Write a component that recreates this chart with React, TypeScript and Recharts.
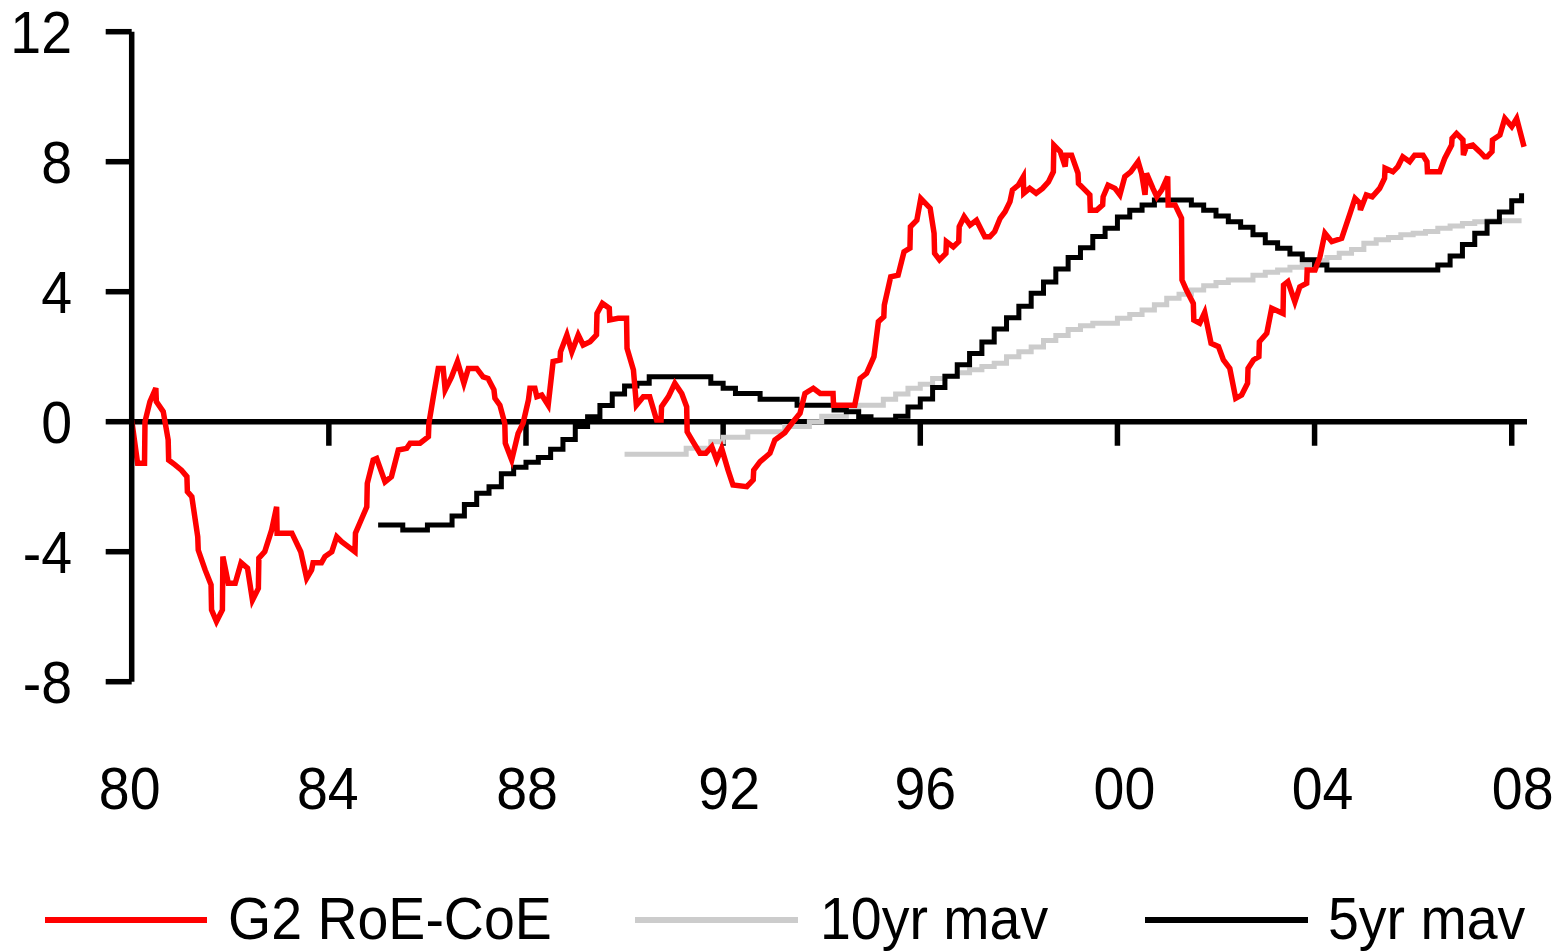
import React from "react";
import { LineChart, Line, XAxis, YAxis, ReferenceLine, Legend } from "recharts";

const FONT = "'Liberation Sans', Arial, sans-serif";

const xTicks = [1980, 1984, 1988, 1992, 1996, 2000, 2004, 2008];
const yTicks = [-8, -4, 0, 4, 8, 12];

const roeYears = [
  1980.0, 1980.12, 1980.26, 1980.27, 1980.37, 1980.49, 1980.5, 1980.64, 1980.74, 1980.75,
  1980.88, 1981.01, 1981.12, 1981.13, 1981.22, 1981.34, 1981.35, 1981.49, 1981.61, 1981.62,
  1981.72, 1981.84, 1981.85, 1981.96, 1982.1, 1982.22, 1982.35, 1982.45, 1982.57, 1982.58,
  1982.7, 1982.84, 1982.94, 1982.95, 1983.25, 1983.43, 1983.55, 1983.65, 1983.68, 1983.85,
  1983.92, 1984.06, 1984.16, 1984.26, 1984.4, 1984.53, 1984.54, 1984.67, 1984.77, 1984.78,
  1984.9, 1984.97, 1985.14, 1985.27, 1985.41, 1985.58, 1985.65, 1985.85, 1986.02, 1986.03,
  1986.12, 1986.22, 1986.32, 1986.36, 1986.49, 1986.61, 1986.74, 1986.83, 1987.0, 1987.13,
  1987.23, 1987.35, 1987.37, 1987.47, 1987.57, 1987.58, 1987.71, 1987.84, 1987.94, 1988.05,
  1988.08, 1988.18, 1988.22, 1988.32, 1988.45, 1988.55, 1988.69, 1988.7, 1988.83, 1988.93,
  1989.06, 1989.16, 1989.3, 1989.43, 1989.44, 1989.55, 1989.69, 1989.7, 1989.87, 1990.04,
  1990.05, 1990.18, 1990.24, 1990.38, 1990.51, 1990.65, 1990.74, 1990.75, 1990.89, 1991.02,
  1991.16, 1991.26, 1991.27, 1991.39, 1991.53, 1991.65, 1991.77, 1991.87, 1991.97, 1992.1,
  1992.2, 1992.48, 1992.61, 1992.62, 1992.75, 1992.95, 1993.05, 1993.25, 1993.42, 1993.56,
  1993.66, 1993.83, 1993.97, 1994.23, 1994.24, 1994.67, 1994.78, 1994.91, 1995.06, 1995.15,
  1995.26, 1995.27, 1995.4, 1995.55, 1995.67, 1995.79, 1995.8, 1995.93, 1996.01, 1996.2,
  1996.28, 1996.29, 1996.39, 1996.52, 1996.53, 1996.67, 1996.78, 1996.79, 1996.89, 1997.01,
  1997.14, 1997.24, 1997.31, 1997.41, 1997.51, 1997.62, 1997.72, 1997.82, 1997.87, 1997.99,
  1998.09, 1998.1, 1998.22, 1998.35, 1998.48, 1998.6, 1998.7, 1998.71, 1998.84, 1998.94,
  1998.96, 1999.07, 1999.2, 1999.21, 1999.31, 1999.44, 1999.45, 1999.58, 1999.7, 1999.71,
  1999.81, 1999.95, 2000.05, 2000.15, 2000.27, 2000.42, 2000.49, 2000.56, 2000.59, 2000.72,
  2000.8, 2000.9, 2001.02, 2001.03, 2001.17, 2001.3, 2001.31, 2001.4, 2001.54, 2001.55,
  2001.67, 2001.77, 2001.9, 2002.05, 2002.15, 2002.28, 2002.4, 2002.52, 2002.64, 2002.65,
  2002.76, 2002.87, 2002.88, 2003.03, 2003.13, 2003.36, 2003.37, 2003.46, 2003.6, 2003.7,
  2003.84, 2003.85, 2004.01, 2004.11, 2004.21, 2004.35, 2004.55, 2004.72, 2004.82, 2004.92,
  2004.93, 2005.05, 2005.17, 2005.32, 2005.42, 2005.43, 2005.59, 2005.69, 2005.79, 2005.93,
  2006.03, 2006.2, 2006.28, 2006.29, 2006.54, 2006.64, 2006.78, 2006.79, 2006.88, 2007.01,
  2007.02, 2007.08, 2007.21, 2007.35, 2007.45, 2007.5, 2007.6, 2007.61, 2007.76, 2007.86,
  2008.0, 2008.1, 2008.25,
];

const roeValues = [
  0.05, -1.28, -1.28, 0.0, 0.62, 1.03, 0.62, 0.31, -0.56, -1.18,
  -1.33, -1.49, -1.69, -2.15, -2.31, -3.54, -3.95, -4.56, -5.02, -5.79,
  -6.15, -5.79, -4.15, -4.97, -4.97, -4.34, -4.51, -5.49, -5.13, -4.2,
  -4.0, -3.33, -2.62, -3.43, -3.43, -4.0, -4.82, -4.56, -4.34, -4.34,
  -4.15, -4.0, -3.54, -3.69, -3.85, -4.0, -3.43, -2.97, -2.62, -1.9,
  -1.18, -1.13, -1.85, -1.69, -0.87, -0.82, -0.66, -0.66, -0.46, -0.05,
  0.77, 1.64, 1.64, 0.98, 1.38, 1.85, 1.18, 1.64, 1.64, 1.38,
  1.33, 0.98, 0.72, 0.51, -0.05, -0.66, -1.18, -0.36, -0.05, 0.67,
  1.03, 1.03, 0.77, 0.82, 0.51, 1.85, 1.9, 2.15, 2.67, 2.15,
  2.67, 2.36, 2.46, 2.67, 3.33, 3.64, 3.49, 3.13, 3.18, 3.18,
  2.26, 1.59, 0.51, 0.77, 0.77, 0.05, 0.05, 0.46, 0.77, 1.18,
  0.87, 0.46, -0.31, -0.62, -0.97, -0.97, -0.77, -1.18, -0.82, -1.49,
  -1.95, -2.0, -1.79, -1.49, -1.23, -0.97, -0.56, -0.34, 0.0, 0.26,
  0.87, 1.03, 0.87, 0.87, 0.51, 0.51, 1.33, 1.49, 2.0, 3.08,
  3.23, 3.59, 4.46, 4.51, 5.23, 5.34, 6.0, 6.2, 6.87, 6.57,
  5.8, 5.18, 4.98, 5.18, 5.54, 5.38, 5.54, 6.0, 6.31, 6.05,
  6.2, 5.9, 5.69, 5.69, 5.85, 6.26, 6.46, 6.77, 7.13, 7.28,
  7.54, 7.03, 7.18, 7.03, 7.18, 7.38, 7.69, 8.51, 8.31, 7.85,
  8.2, 8.2, 7.64, 7.33, 7.18, 6.98, 6.51, 6.51, 6.67, 6.92,
  7.28, 7.18, 6.98, 7.54, 7.69, 8.0, 7.64, 6.98, 7.64, 7.18,
  6.92, 7.13, 7.54, 6.67, 6.67, 6.26, 4.36, 4.05, 3.64, 3.13,
  3.03, 3.36, 2.41, 2.31, 1.9, 1.64, 0.72, 0.82, 1.18, 1.64,
  1.9, 2.0, 2.46, 2.72, 3.49, 3.33, 4.2, 4.31, 3.69, 4.15,
  4.26, 4.67, 4.67, 5.08, 5.8, 5.54, 5.64, 6.41, 6.87, 6.72,
  6.51, 6.98, 6.92, 7.18, 7.49, 7.8, 7.69, 7.85, 8.15, 8.0,
  8.2, 8.2, 8.0, 7.69, 7.69, 8.1, 8.51, 8.72, 8.87, 8.67,
  8.2, 8.46, 8.51, 8.31, 8.15, 8.15, 8.31, 8.67, 8.82, 9.33,
  9.08, 9.33, 8.46,
];

const mav5Years = [
  1985.0, 1985.25, 1985.5, 1985.75, 1986.0, 1986.25, 1986.5, 1986.75, 1987.0, 1987.25,
  1987.5, 1987.75, 1988.0, 1988.25, 1988.5, 1988.75, 1989.0, 1989.25, 1989.5, 1989.75,
  1990.0, 1990.25, 1990.5, 1990.75, 1991.0, 1991.25, 1991.5, 1991.75, 1992.0, 1992.25,
  1992.5, 1992.75, 1993.0, 1993.25, 1993.5, 1993.75, 1994.0, 1994.25, 1994.5, 1994.75,
  1995.0, 1995.25, 1995.5, 1995.75, 1996.0, 1996.25, 1996.5, 1996.75, 1997.0, 1997.25,
  1997.5, 1997.75, 1998.0, 1998.25, 1998.5, 1998.75, 1999.0, 1999.25, 1999.5, 1999.75,
  2000.0, 2000.25, 2000.5, 2000.75, 2001.0, 2001.25, 2001.5, 2001.75, 2002.0, 2002.25,
  2002.5, 2002.75, 2003.0, 2003.25, 2003.5, 2003.75, 2004.0, 2004.25, 2004.5, 2004.75,
  2005.0, 2005.25, 2005.5, 2005.75, 2006.0, 2006.25, 2006.5, 2006.75, 2007.0, 2007.25,
  2007.5, 2007.75, 2008.0, 2008.2,
];

const mav5Values = [
  -3.18, -3.18, -3.33, -3.33, -3.18, -3.18, -2.9, -2.55, -2.2, -2.0,
  -1.6, -1.4, -1.25, -1.1, -0.85, -0.55, -0.15, 0.15, 0.5, 0.85,
  1.1, 1.18, 1.38, 1.38, 1.38, 1.38, 1.38, 1.18, 1.03, 0.87,
  0.87, 0.69, 0.69, 0.69, 0.51, 0.51, 0.51, 0.36, 0.31, 0.15,
  0.05, 0.05, 0.17, 0.45, 0.7, 1.05, 1.4, 1.75, 2.1, 2.45,
  2.85, 3.2, 3.55, 3.95, 4.3, 4.7, 5.05, 5.35, 5.7, 5.95,
  6.3, 6.51, 6.67, 6.82, 6.82, 6.82, 6.67, 6.51, 6.33, 6.15,
  5.98, 5.75, 5.51, 5.34, 5.16, 4.98, 4.82, 4.67, 4.67, 4.67,
  4.67, 4.67, 4.67, 4.67, 4.67, 4.67, 4.82, 5.1, 5.45, 5.8,
  6.15, 6.45, 6.8, 7.03,
];

const mav10Years = [
  1990.0, 1990.25, 1990.5, 1990.75, 1991.0, 1991.25, 1991.5, 1991.75, 1992.0, 1992.25,
  1992.5, 1992.75, 1993.0, 1993.25, 1993.5, 1993.75, 1994.0, 1994.25, 1994.5, 1994.75,
  1995.0, 1995.25, 1995.5, 1995.75, 1996.0, 1996.25, 1996.5, 1996.75, 1997.0, 1997.25,
  1997.5, 1997.75, 1998.0, 1998.25, 1998.5, 1998.75, 1999.0, 1999.25, 1999.5, 1999.75,
  2000.0, 2000.25, 2000.5, 2000.75, 2001.0, 2001.25, 2001.5, 2001.75, 2002.0, 2002.25,
  2002.5, 2002.75, 2003.0, 2003.25, 2003.5, 2003.75, 2004.0, 2004.25, 2004.5, 2004.75,
  2005.0, 2005.25, 2005.5, 2005.75, 2006.0, 2006.25, 2006.5, 2006.75, 2007.0, 2007.25,
  2007.5, 2007.75, 2008.0, 2008.2,
];

const mav10Values = [
  -1.0, -1.0, -1.0, -1.0, -1.0, -0.82, -0.82, -0.62, -0.48, -0.48,
  -0.31, -0.31, -0.31, -0.15, -0.15, 0.0, 0.17, 0.17, 0.36, 0.51,
  0.51, 0.69, 0.85, 1.03, 1.15, 1.33, 1.4, 1.51, 1.6, 1.7,
  1.8, 2.0, 2.15, 2.3, 2.5, 2.65, 2.84, 2.95, 3.03, 3.03,
  3.18, 3.3, 3.44, 3.6, 3.8, 3.92, 4.05, 4.18, 4.28, 4.36,
  4.36, 4.51, 4.6, 4.67, 4.75, 4.82, 4.95, 5.05, 5.18, 5.3,
  5.49, 5.6, 5.67, 5.75, 5.8, 5.85, 5.95, 6.02, 6.1, 6.15,
  6.18, 6.18, 6.18, 6.18,
];

const seriesNames = ["G2 RoE-CoE", "10yr mav", "5yr mav"];
const seriesColors = ["#ff0000", "#cccccc", "#000000"];

const roeData = roeYears.map((x, i) => ({ x, y: roeValues[i] }));
const mav5Data = mav5Years.map((x, i) => ({ x, y: mav5Values[i] }));
const mav10Data = mav10Years.map((x, i) => ({ x, y: mav10Values[i] }));

const SX = 0.925;
const FS = 60;

const YTick = (props: any) => {
  const { x, y, payload } = props;
  return (
    <text
      transform={`translate(${x},${y}) scale(${SX},1)`}
      textAnchor="end"
      dy="0.355em"
      fontSize={FS}
      fontFamily={FONT}
      fill="#000"
    >
      {String(payload.value)}
    </text>
  );
};

const XTick = (props: any) => {
  const { x, y, payload, index } = props;
  const shift = [-2, -1, 1, 6, 5, 7, 8, 11][index] || 0;
  return (
    <text
      transform={`translate(${x + shift},${y}) scale(${SX},1)`}
      textAnchor="middle"
      fontSize={FS}
      fontFamily={FONT}
      fill="#000"
    >
      {String(payload.value).slice(2)}
    </text>
  );
};

const legendLayout = [
  { x1: 45, x2: 207, tx: 228 },
  { x1: 635, x2: 798, tx: 820 },
  { x1: 1145, x2: 1308, tx: 1328 },
];

const LegendContent = () => (
  <svg width={1555} height={72} style={{ display: "block" }}>
    {seriesNames.map((name, i) => (
      <g key={name}>
        <line
          x1={legendLayout[i].x1}
          x2={legendLayout[i].x2}
          y1={40}
          y2={40}
          stroke={seriesColors[i]}
          strokeWidth={6}
        />
        <text
          transform={`translate(${legendLayout[i].tx},59) scale(${SX},1)`}
          fontSize={FS}
          fontFamily={FONT}
          fill="#000"
        >
          {name}
        </text>
      </g>
    ))}
  </svg>
);

export default function App() {
  return (
    <div style={{ position: "absolute", left: 0, top: 0, width: 1555, height: 952, background: "#fff" }}>
      <LineChart
        width={1555}
        height={952}
        margin={{ top: 31.7, right: 28, bottom: 140.3, left: 0 }}
      >
        <XAxis
          type="number"
          dataKey="x"
          domain={[1980, 2008.31]}
          allowDataOverflow
          ticks={xTicks}
          interval={0}
          axisLine={false}
          tickLine={false}
          tickSize={0}
          tickMargin={127.6}
          height={130}
          tick={<XTick />}
        />
        <YAxis
          type="number"
          domain={[-8, 12]}
          allowDataOverflow
          ticks={yTicks}
          interval={0}
          width={131.7}
          axisLine={{ stroke: "#000", strokeWidth: 5.5 }}
          tickLine={{ stroke: "#000", strokeWidth: 5.5 }}
          tickSize={26}
          tickMargin={33.7}
          tick={<YTick />}
        />
        <ReferenceLine y={0} stroke="#000" strokeWidth={5.5} />
        {xTicks.slice(1).map((t) => (
          <ReferenceLine
            key={t}
            segment={[
              { x: t, y: 0 },
              { x: t, y: -0.74 },
            ]}
            stroke="#000"
            strokeWidth={5.5}
          />
        ))}
        <Line
          data={mav10Data}
          dataKey="y"
          type="stepAfter"
          stroke={seriesColors[1]}
          strokeWidth={5}
          dot={false}
          activeDot={false}
          isAnimationActive={false}
          name={seriesNames[1]}
        />
        <Line
          data={mav5Data}
          dataKey="y"
          type="stepAfter"
          stroke={seriesColors[2]}
          strokeWidth={5}
          dot={false}
          activeDot={false}
          isAnimationActive={false}
          name={seriesNames[2]}
        />
        <Line
          data={roeData}
          dataKey="y"
          type="linear"
          stroke={seriesColors[0]}
          strokeWidth={5.5}
          dot={false}
          activeDot={false}
          isAnimationActive={false}
          name={seriesNames[0]}
        />
        <Legend
          verticalAlign="middle"
          align="center"
          layout="horizontal"
          content={<LegendContent />}
          wrapperStyle={{ top: 880, left: 0, width: 1555, height: 72 }}
        />
      </LineChart>
    </div>
  );
}
